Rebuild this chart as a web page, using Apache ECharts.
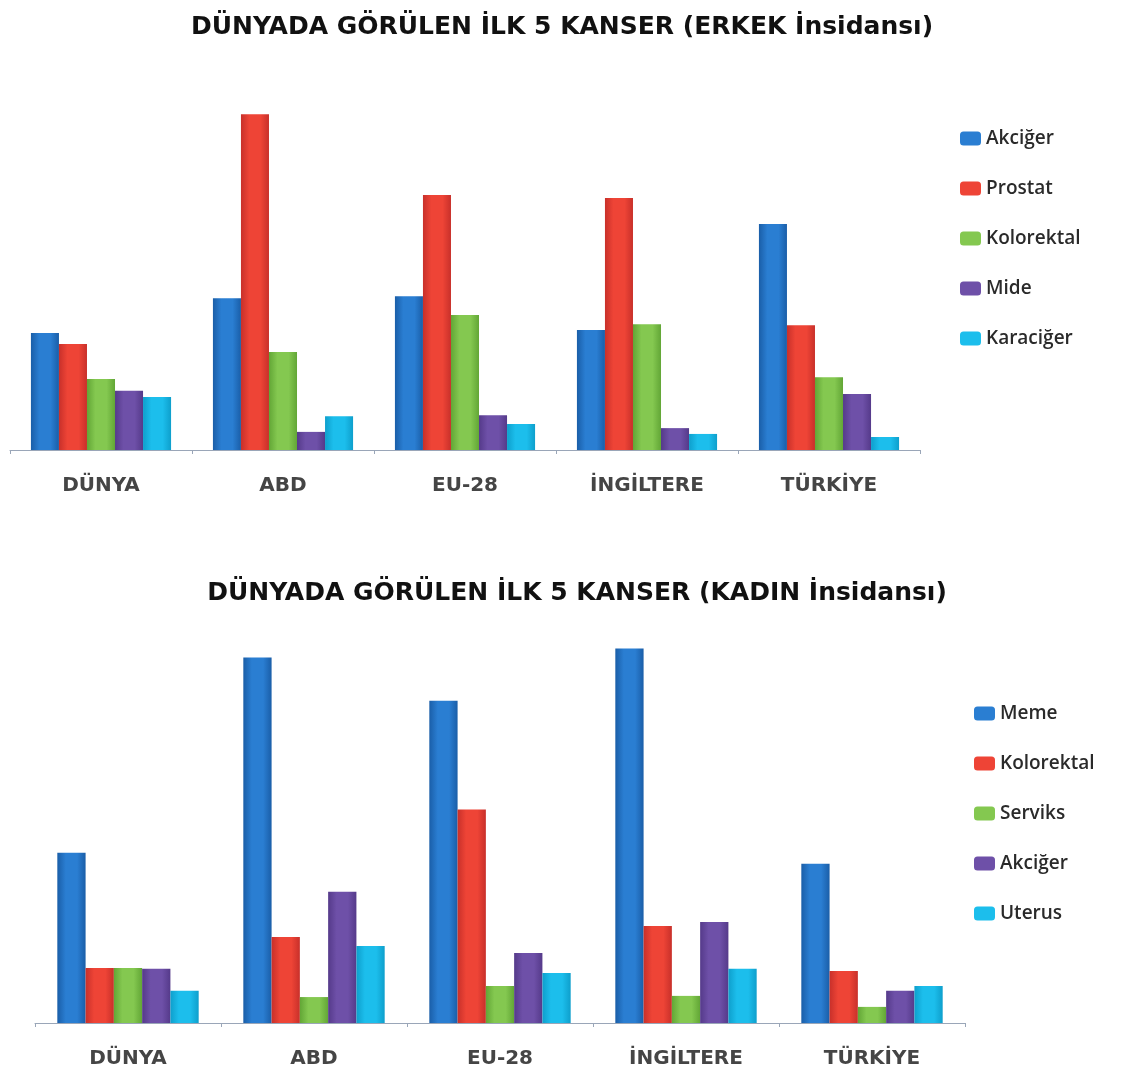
<!DOCTYPE html>
<html>
<head>
<meta charset="utf-8">
<script src="https://cdn.jsdelivr.net/npm/echarts@6/dist/echarts.min.js"></script>
<style>html,body{margin:0;padding:0;background:#fff}#c{width:1138px;height:1073px}</style>
</head>
<body>
<div id="c"></div>
<script>
// Categories
var categories = ['DÜNYA', 'ABD', 'EU-28', 'İNGİLTERE', 'TÜRKİYE'];

// Top chart (ERKEK) series
var maleNames = ['Akciğer', 'Prostat', 'Kolorektal', 'Mide', 'Karaciğer'];
var maleAkciger   = [34.2, 44.4, 45.0, 35.1, 66.1];
var maleProstat   = [31.0, 98.2, 74.6, 73.7, 36.5];
var maleKolorektal= [20.8, 28.7, 39.5, 36.8, 21.3];
var maleMide      = [17.3, 5.3, 10.2, 6.4, 16.4];
var maleKaraciger = [15.5, 9.9, 7.6, 4.7, 3.8];

// Bottom chart (KADIN) series
var femaleNames = ['Meme', 'Kolorektal', 'Serviks', 'Akciğer', 'Uterus'];
var femaleMeme      = [43.3, 93.0, 82.0, 95.3, 40.5];
var femaleKolorektal= [14.0, 21.9, 54.3, 24.7, 13.2];
var femaleServiks   = [14.0, 6.6, 9.4, 6.9, 4.1];
var femaleAkciger   = [13.8, 33.4, 17.8, 25.7, 8.2];
var femaleUterus    = [8.2, 19.6, 12.7, 13.8, 9.4];

var titleTop = 'DÜNYADA GÖRÜLEN İLK 5 KANSER (ERKEK İnsidansı)';
var titleBottom = 'DÜNYADA GÖRÜLEN İLK 5 KANSER (KADIN İnsidansı)';

var C = {
  blue:   ['#1a5ea8', '#2a7ed2'],
  red:    ['#c8302a', '#ee4436'],
  green:  ['#62a636', '#84c850'],
  purple: ['#553a8a', '#6e50a8'],
  cyan:   ['#0e9fcc', '#1cbeec']
};
function grad(c) {
  return new echarts.graphic.LinearGradient(0, 0, 1, 0, [
    {offset: 0, color: c[0]}, {offset: 0.3, color: c[1]},
    {offset: 0.7, color: c[1]}, {offset: 1, color: c[0]}
  ]);
}
var maleColors = [C.blue, C.red, C.green, C.purple, C.cyan];
var femaleColors = [C.blue, C.red, C.green, C.purple, C.cyan];
var maleData = [maleAkciger, maleProstat, maleKolorektal, maleMide, maleKaraciger];
var femaleData = [femaleMeme, femaleKolorektal, femaleServiks, femaleAkciger, femaleUterus];

var series = [];
maleNames.forEach(function (n, i) {
  series.push({
    type: 'bar', name: n, xAxisIndex: 0, yAxisIndex: 0,
    data: maleData[i], barGap: '0%', barCategoryGap: '23%',
    itemStyle: {color: grad(maleColors[i])}, silent: true
  });
});
femaleNames.forEach(function (n, i) {
  series.push({
    type: 'bar', name: n, xAxisIndex: 1, yAxisIndex: 1,
    data: femaleData[i], barGap: '0%', barCategoryGap: '24%',
    itemStyle: {color: grad(femaleColors[i])}, silent: true
  });
});

var axisLabelStyle = {
  color: '#454545', fontFamily: 'DejaVu Sans', fontWeight: 'bold', fontSize: 20, margin: 26
};
var xAxisCommon = {
  type: 'category', data: categories,
  axisLine: {lineStyle: {color: '#9aa6b8', width: 1}},
  axisTick: {show: true, length: 4, lineStyle: {color: '#9aa6b8'}},
  axisLabel: axisLabelStyle
};
var yAxisCommon = {type: 'value', min: 0, show: false, splitLine: {show: false}};

var legendText = {color: '#2a2a2a', fontFamily: 'Open Sans', fontWeight: 600, fontSize: 19, padding: [0, 0, 0, 0]};
function legendData(names, colors) {
  return names.map(function (n, i) { return {name: n, itemStyle: {color: colors[i][1]}}; });
}

var titleStyle = {fontFamily: 'DejaVu Sans', fontWeight: 'bold', fontSize: 25, color: '#111'};

var chart = echarts.init(document.getElementById('c'), null, {renderer: 'canvas'});
chart.setOption({
  animation: false,
  backgroundColor: '#ffffff',
  title: [
    {text: titleTop, left: 557, top: 10, textAlign: 'center', textStyle: titleStyle},
    {text: titleBottom, left: 572, top: 576, textAlign: 'center', textStyle: titleStyle}
  ],
  legend: [
    {orient: 'vertical', left: 955, top: 124, itemWidth: 21, itemHeight: 14, itemGap: 31,
     icon: 'roundRect', selectedMode: false, textStyle: legendText,
     data: legendData(maleNames, maleColors)},
    {orient: 'vertical', left: 969, top: 699, itemWidth: 21, itemHeight: 14, itemGap: 31,
     icon: 'roundRect', selectedMode: false, textStyle: legendText,
     data: legendData(femaleNames, femaleColors)}
  ],
  grid: [
    {left: 10, width: 910, top: 74, height: 376},
    {left: 35, width: 930, top: 630, height: 393}
  ],
  xAxis: [
    Object.assign({gridIndex: 0}, xAxisCommon),
    Object.assign({gridIndex: 1}, xAxisCommon)
  ],
  yAxis: [
    Object.assign({gridIndex: 0, max: 110}, yAxisCommon),
    Object.assign({gridIndex: 1, max: 100}, yAxisCommon)
  ],
  series: series
});
</script>
</body>
</html>
